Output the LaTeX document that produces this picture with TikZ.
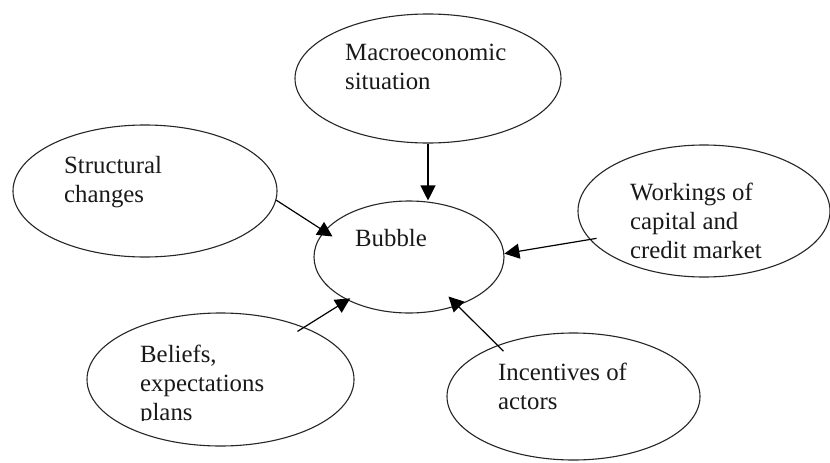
\documentclass[tikz,border=0pt]{standalone}
\usepackage{fontspec}
\setmainfont{Liberation Serif}
\usetikzlibrary{shapes.geometric,arrows.meta}
\begin{document}
\begin{tikzpicture}[x=1pt,y=-1pt,
  oval/.style={draw=black!85, line width=1.1pt, ellipse, inner sep=0pt},
  caption/.style={font=\fontsize{24.8}{29}\selectfont, align=left, inner sep=0pt,
    anchor=base west, text=black!90},
  link/.style={line width=1.2pt, -{Triangle[length=15pt,width=15pt]}}]
\useasboundingbox (0,0) rectangle (830,463);
\fill[white] (0,0) rectangle (830,463);

% ovals
\node[oval, minimum width=266pt, minimum height=129pt] (macro)  at (428,78.5)    {};
\node[oval, minimum width=264pt, minimum height=132pt] (struct) at (145,191)     {};
\node[oval, minimum width=252pt, minimum height=132pt] (work)   at (704,211)     {};
\node[oval, minimum width=190pt, minimum height=112pt] (bubble) at (409,257)     {};
\node[oval, minimum width=267pt, minimum height=133pt] (belief) at (220.5,379.5) {};
\node[oval, minimum width=253pt, minimum height=127pt] (incent) at (573.5,396.5) {};

% labels (multi-line captions sit on the baseline of their last line)
\node[caption] (macrotext)  at (345,89)  {Macroeconomic\\situation};
\node[caption] (structtext) at (64,202)  {Structural\\changes};
\node[caption] (worktext)   at (630,258) {Workings of\\capital and\\credit market};
\node[caption] (bubbletext) at (355,246) {Bubble};
\begin{scope}
  \clip (0,0) rectangle (830,420.5);
  \node[caption] (belieftext) at (140,420) {Beliefs,\\expectations\\plans};
\end{scope}
\node[caption] (incenttext) at (498,409) {Incentives of\\actors};

% influences on the bubble
\draw[link] (macro.south) -- (macro.south |- bubble.north);
\draw[link, shorten >=-10pt] (struct.-4) -- (bubble.163);
\draw[link, shorten <=-7pt] (work.-166) -- (bubble.2);
\draw[link, shorten <=-8pt, shorten >=-3.5pt] (belief.32) -- (bubble.-145.6);
\draw[link, shorten <=-8.5pt, shorten >=-13pt] (incent.146.5) -- (bubble.-45);
\end{tikzpicture}
\end{document}
